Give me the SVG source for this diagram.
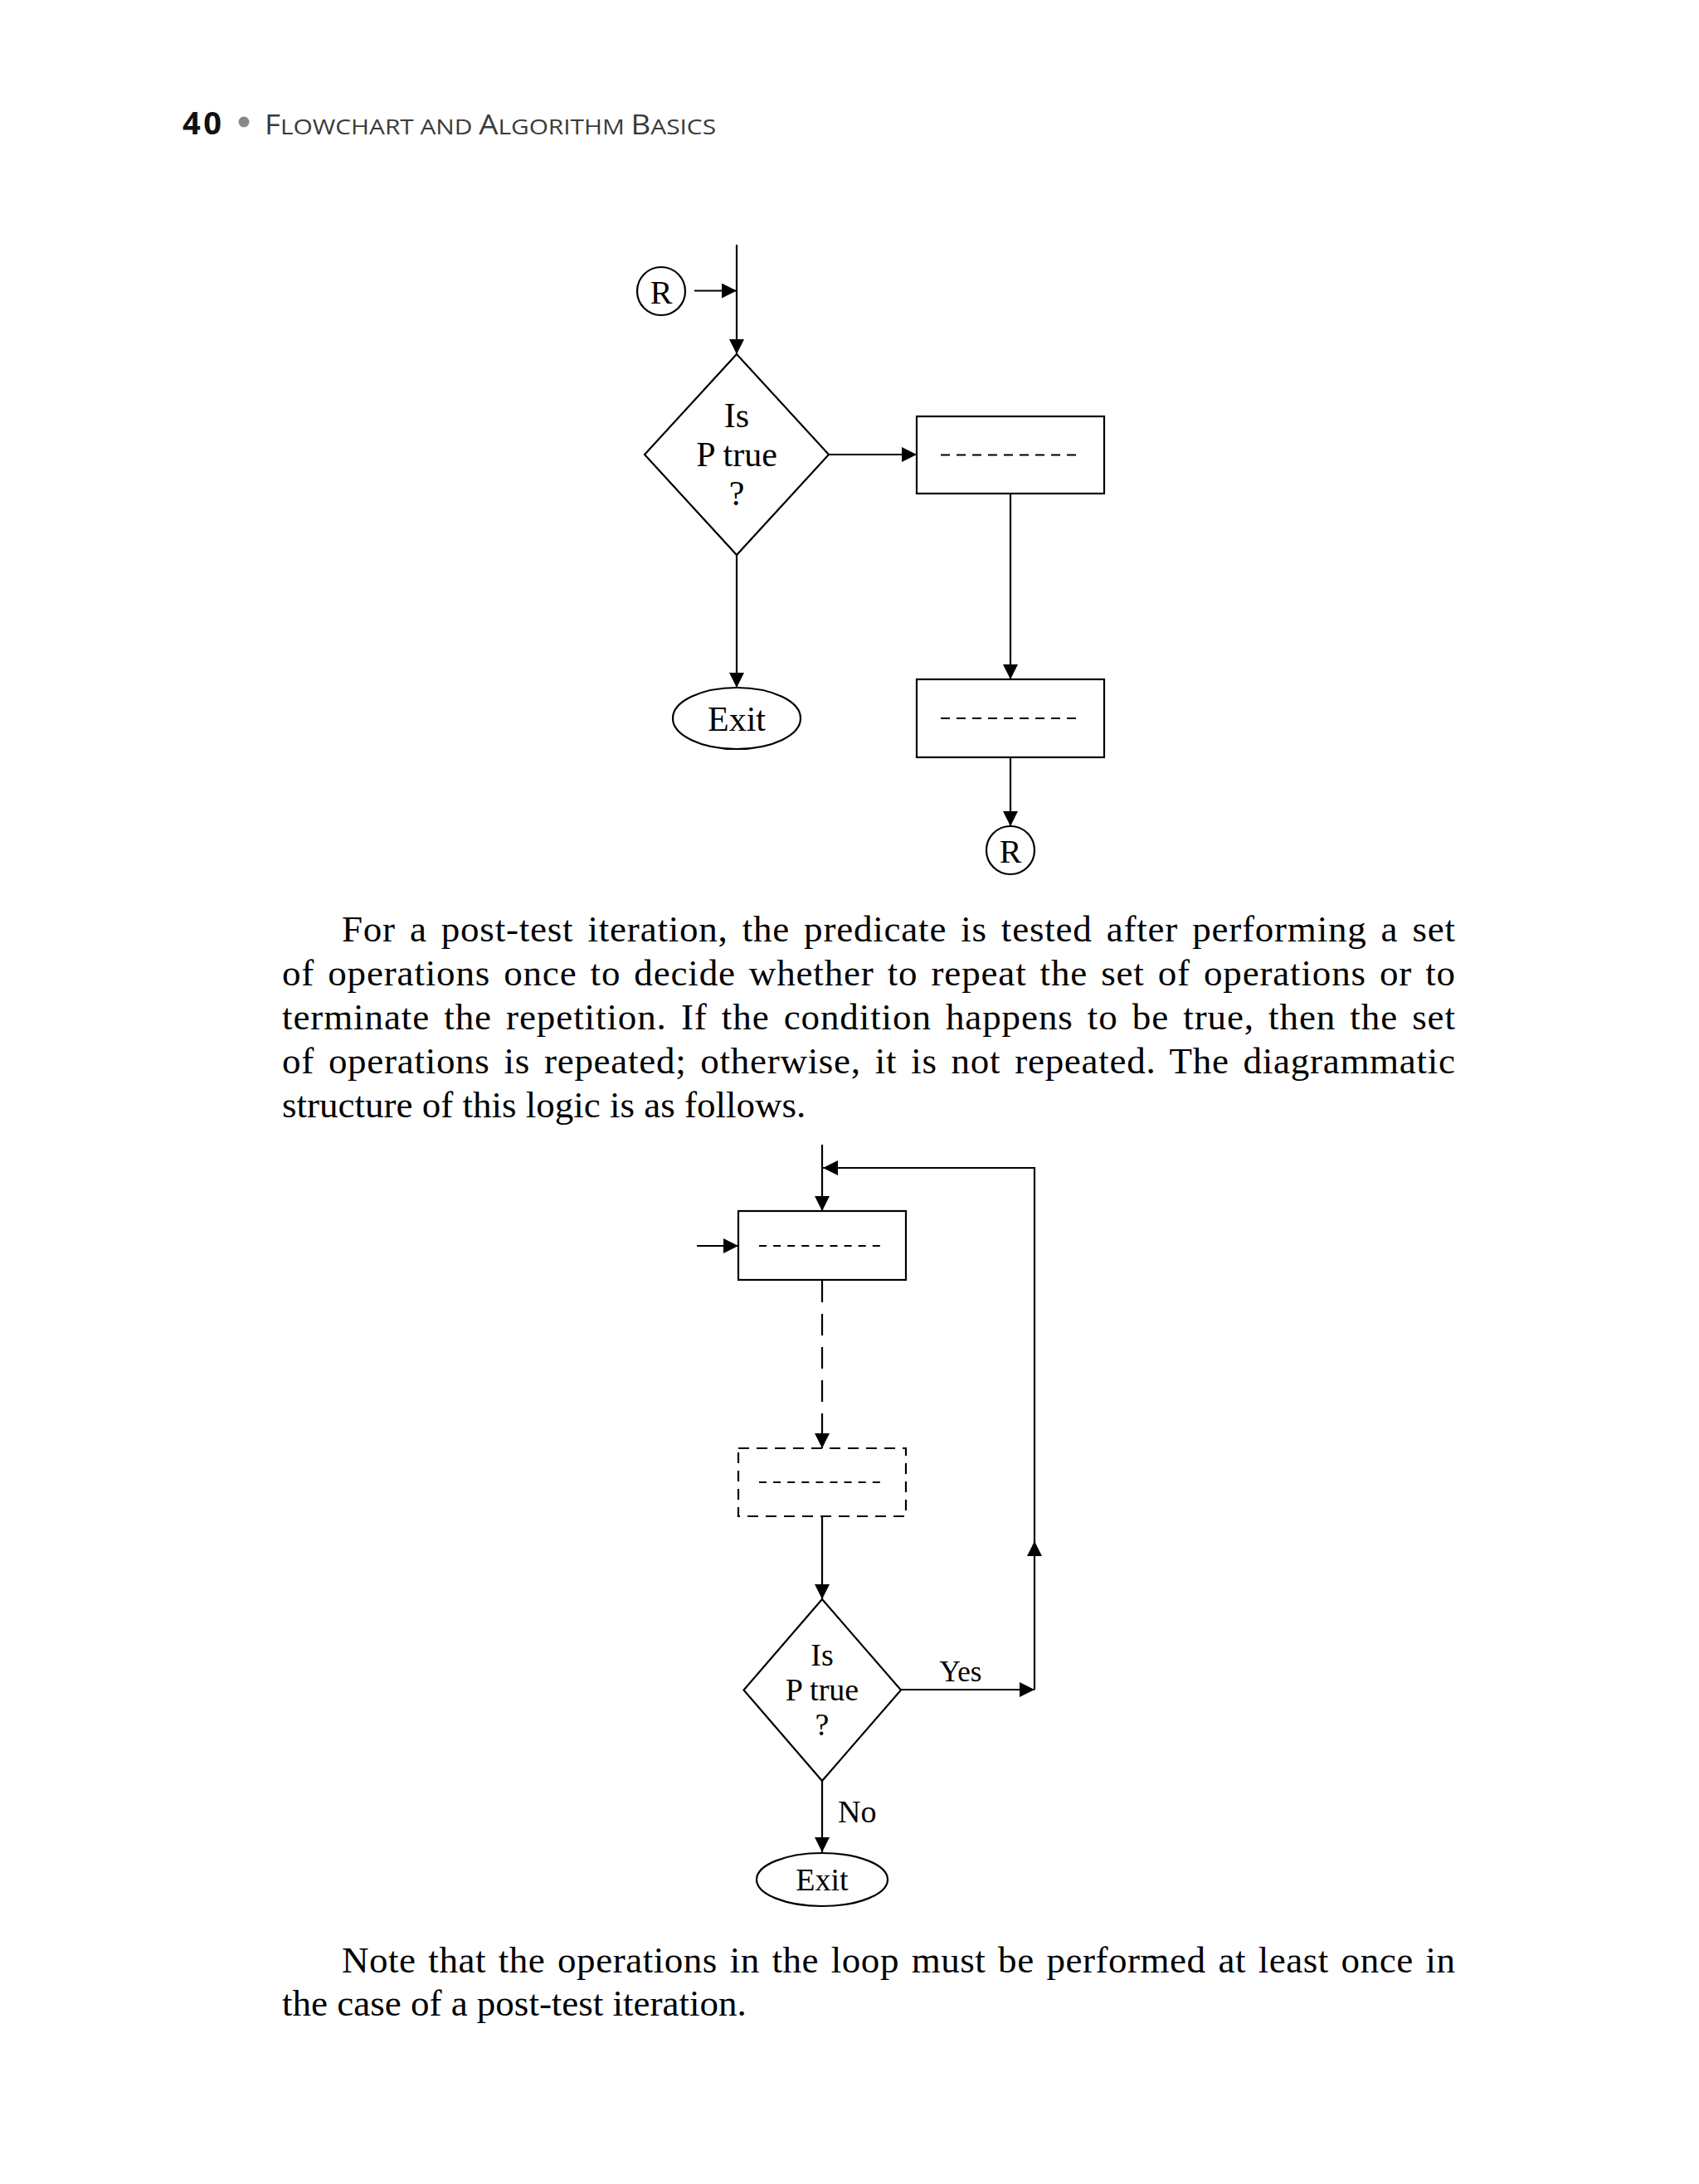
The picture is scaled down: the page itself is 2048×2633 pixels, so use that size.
<svg xmlns="http://www.w3.org/2000/svg" width="2048" height="2633" viewBox="0 0 2048 2633">
<defs>
<marker id="ah" viewBox="0 0 18 18" refX="18" refY="9" markerWidth="18" markerHeight="18" markerUnits="userSpaceOnUse" orient="auto">
<path d="M0,0 L18,9 L0,18 Z" fill="#000"/>
</marker>
<style>
.ln{fill:none;stroke:#000;stroke-width:2.2}
.arr{fill:none;stroke:#000;stroke-width:2.2;marker-end:url(#ah)}
.dsh{fill:none;stroke:#000;stroke-width:2.2;stroke-dasharray:26 14;marker-end:url(#ah)}
.box{fill:#fff;stroke:#000;stroke-width:2.2}
.dbox{fill:#fff;stroke:#000;stroke-width:2.2;stroke-dasharray:13 9}
.lbl{font-family:"Liberation Serif","Times New Roman",serif;fill:#000;text-anchor:middle}
.body{font-family:"Liberation Serif","Times New Roman",serif;font-size:45px;fill:#000}
.hd{font-family:"Open Sans","Liberation Sans",sans-serif;fill:#3a3a3a}
</style>
</defs>
<rect width="2048" height="2633" fill="#fff"/>

<g id="header">
<text x="220" y="162" font-family="'Open Sans','Liberation Sans',sans-serif" font-weight="bold" font-size="38" fill="#111" textLength="47">40</text>
<circle cx="294" cy="147" r="6.5" fill="#888"/>
<text class="hd" x="319" y="162" textLength="544" lengthAdjust="spacingAndGlyphs"><tspan font-size="32">F</tspan><tspan font-size="26">LOWCHART AND </tspan><tspan font-size="32">A</tspan><tspan font-size="26">LGORITHM </tspan><tspan font-size="32">B</tspan><tspan font-size="26">ASICS</tspan></text>
</g>

<!-- Diagram 1 -->
<g id="connectors1">
<path class="arr" d="M888,295 V427"/>
<path class="arr" d="M837,350.5 H888"/>
<path class="arr" d="M999,548 H1105"/>
<path class="arr" d="M888,669 V829"/>
<path class="arr" d="M1218,595 V819"/>
<path class="arr" d="M1218,913 V996"/>
</g>
<g id="r-in">
<circle class="box" cx="797" cy="351" r="29"/>
<text class="lbl" x="797" y="366" font-size="40">R</text>
</g>
<g id="decision1">
<path class="box" d="M888,427 L999,548 L888,669 L777,548 Z"/>
<text class="lbl" x="888" y="515" font-size="42">Is</text>
<text class="lbl" x="888" y="562" font-size="42">P true</text>
<text class="lbl" x="888" y="609" font-size="42">?</text>
</g>
<g id="exit1">
<ellipse class="box" cx="888" cy="866" rx="77" ry="37"/>
<text class="lbl" x="888" y="881" font-size="42">Exit</text>
</g>
<g id="process1a">
<rect class="box" x="1105" y="502" width="226" height="93"/>
<path class="ln" d="M1134,548.5 H1297" stroke-dasharray="11 8"/>
</g>
<g id="process1b">
<rect class="box" x="1105" y="819" width="226" height="94"/>
<path class="ln" d="M1134,866 H1297" stroke-dasharray="11 8"/>
</g>
<g id="r-out">
<circle class="box" cx="1218" cy="1025" r="29"/>
<text class="lbl" x="1218" y="1040" font-size="40">R</text>
</g>

<g id="para1">
<text class="body" x="412" y="1135" word-spacing="5" textLength="1342" lengthAdjust="spacing">For a post-test iteration, the predicate is tested after performing a set</text>
<text class="body" x="340" y="1188" word-spacing="4" textLength="1414" lengthAdjust="spacing">of operations once to decide whether to repeat the set of operations or to</text>
<text class="body" x="340" y="1241" word-spacing="5" textLength="1414" lengthAdjust="spacing">terminate the repetition. If the condition happens to be true, then the set</text>
<text class="body" x="340" y="1294" word-spacing="5" textLength="1414" lengthAdjust="spacing">of operations is repeated; otherwise, it is not repeated. The diagrammatic</text>
<text class="body" x="340" y="1347">structure of this logic is as follows.</text>
</g>

<!-- Diagram 2 -->
<g id="connectors2">
<path class="arr" d="M991,1380 V1460"/>
<path class="arr" d="M840,1502 H890"/>
<path class="dsh" d="M991,1544 V1746"/>
<path class="arr" d="M991,1828 V1928"/>
<path class="arr" d="M1086,2037 H1247"/>
<path class="arr" d="M1247,2037 V1858"/>
<path class="arr" d="M1247,1860 V1408 H992"/>
<path class="arr" d="M991,2147 V2233"/>
</g>
<g id="process2a">
<rect class="box" x="890" y="1460" width="202" height="83"/>
<path class="ln" d="M915,1502 H1061" stroke-dasharray="9 8.1"/>
</g>
<g id="process2b">
<rect class="dbox" x="890" y="1746" width="202" height="82"/>
<path class="ln" d="M915,1787 H1061" stroke-dasharray="9 8.1"/>
</g>
<g id="decision2">
<path class="box" d="M991,1928 L1086,2037.5 L991,2147 L896.5,2037.5 Z"/>
<text class="lbl" x="991" y="2008" font-size="38">Is</text>
<text class="lbl" x="991" y="2050" font-size="38">P true</text>
<text class="lbl" x="991" y="2092" font-size="38">?</text>
</g>
<g id="labels2">
<text class="lbl" x="1158" y="2027" font-size="35">Yes</text>
<text x="1010" y="2197" font-family="'Liberation Serif','Times New Roman',serif" font-size="38" fill="#000">No</text>
</g>
<g id="exit2">
<ellipse class="box" cx="991" cy="2266" rx="79" ry="32"/>
<text class="lbl" x="991" y="2279" font-size="38">Exit</text>
</g>

<g id="para2">
<text class="body" x="412" y="2378" word-spacing="3" textLength="1342" lengthAdjust="spacing">Note that the operations in the loop must be performed at least once in</text>
<text class="body" x="340" y="2430">the case of a post-test iteration.</text>
</g>
</svg>
